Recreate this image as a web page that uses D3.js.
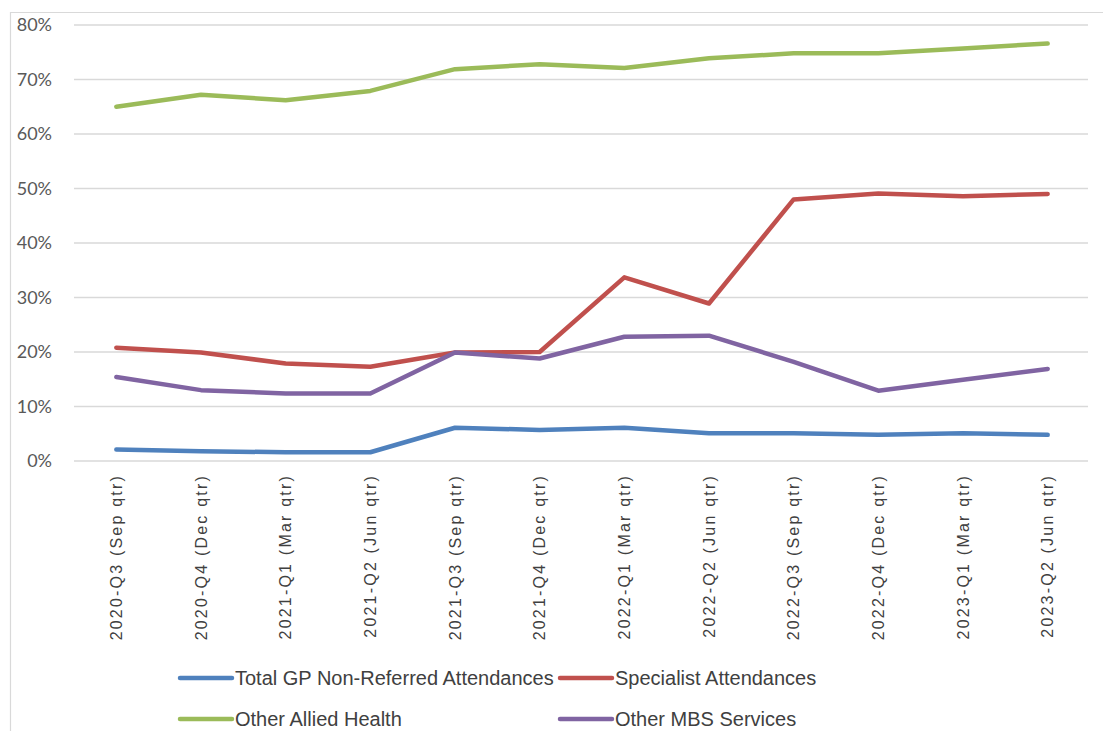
<!DOCTYPE html>
<html>
<head>
<meta charset="utf-8">
<script src="https://cdn.jsdelivr.net/npm/d3@7"></script>
<style>
  body { margin: 0; background: #fff; }
  svg { display: block; }
</style>
</head>
<body>
<svg id="chart"></svg>
<script>
const quarters = ["2020-Q3 (Sep qtr)", "2020-Q4 (Dec qtr)", "2021-Q1 (Mar qtr)", "2021-Q2 (Jun qtr)",
  "2021-Q3 (Sep qtr)", "2021-Q4 (Dec qtr)", "2022-Q1 (Mar qtr)", "2022-Q2 (Jun qtr)",
  "2022-Q3 (Sep qtr)", "2022-Q4 (Dec qtr)", "2023-Q1 (Mar qtr)", "2023-Q2 (Jun qtr)"];
const gpNonReferred = [2.1, 1.8, 1.6, 1.6, 6.1, 5.7, 6.1, 5.1, 5.1, 4.8, 5.1, 4.8];
const specialist   = [20.8, 19.9, 17.9, 17.3, 19.9, 20.0, 33.7, 28.9, 48.0, 49.1, 48.6, 49.0];
const alliedHealth = [65.0, 67.2, 66.2, 67.9, 71.9, 72.8, 72.1, 73.9, 74.8, 74.8, 75.7, 76.6];
const otherMbs     = [15.4, 13.0, 12.4, 12.4, 19.9, 18.8, 22.8, 23.0, 18.2, 12.9, 14.9, 16.9];
const yTicks = [0, 10, 20, 30, 40, 50, 60, 70, 80];

const series = [
  { name: "Total GP Non-Referred Attendances", values: gpNonReferred, color: "#4f81bd" },
  { name: "Specialist Attendances", values: specialist, color: "#c0504d" },
  { name: "Other Allied Health", values: alliedHealth, color: "#9bbb59" },
  { name: "Other MBS Services", values: otherMbs, color: "#8064a2" }
];

const width = 1103, height = 731;
const svg = d3.select("#chart").attr("width", width).attr("height", height);

// outer chart frame (top + left visible)
svg.append("path")
  .attr("d", "M10.5,740 L10.5,12.5 L1103,12.5")
  .attr("fill", "none").attr("stroke", "#d9d9d9").attr("stroke-width", 1.2);

const x = d3.scaleBand().domain(quarters).range([74, 1090]);
const y = d3.scaleLinear().domain([0, 80]).range([461, 25]);

// gridlines
svg.append("g").selectAll("line").data(yTicks).join("line")
  .attr("x1", 74).attr("x2", 1088)
  .attr("y1", d => y(d)).attr("y2", d => y(d))
  .attr("stroke", "#d9d9d9").attr("stroke-width", 1.5);

// y axis labels
const yAxis = svg.append("g")
  .attr("transform", "translate(52,0)")
  .call(d3.axisLeft(y).tickValues(yTicks).tickFormat(d => d + "%").tickSize(0).tickPadding(0));
yAxis.select(".domain").remove();
yAxis.selectAll("text")
  .attr("font-family", "Lato, 'Open Sans', sans-serif")
  .attr("font-size", 18).attr("fill", "#595959");

// x axis labels
const xAxis = svg.append("g")
  .attr("transform", "translate(0,461)")
  .call(d3.axisBottom(x).tickSize(0).tickPadding(0));
xAxis.select(".domain").remove();
xAxis.selectAll("text")
  .attr("font-family", "'Liberation Sans', Arial, sans-serif")
  .attr("font-size", 16).attr("fill", "#404040")
  .attr("letter-spacing", 2.2)
  .attr("transform", "translate(0,13) rotate(-90)")
  .attr("text-anchor", "end")
  .attr("dx", 0).attr("dy", "0.35em")
  .attr("y", 0).attr("x", 0);

// lines
const line = d3.line()
  .x((d, i) => x(quarters[i]) + x.bandwidth() / 2)
  .y(d => y(d));

svg.append("g").selectAll("path").data(series).join("path")
  .attr("d", d => line(d.values))
  .attr("fill", "none")
  .attr("stroke", d => d.color)
  .attr("stroke-width", 4.5)
  .attr("stroke-linejoin", "round")
  .attr("stroke-linecap", "round");

// legend
const legendPos = [[180, 678], [560, 678], [180, 719], [560, 719]];
const legend = svg.append("g").selectAll("g").data(series).join("g")
  .attr("transform", (d, i) => `translate(${legendPos[i][0]},${legendPos[i][1]})`);
legend.append("line")
  .attr("x1", 0).attr("x2", 52).attr("y1", 0).attr("y2", 0)
  .attr("stroke", d => d.color).attr("stroke-width", 4.5)
  .attr("stroke-linecap", "round");
legend.append("text")
  .attr("x", 55).attr("y", 0).attr("dy", "0.35em")
  .attr("font-family", "'Liberation Sans', Arial, sans-serif")
  .attr("font-size", 20).attr("fill", "#404040")
  .text(d => d.name);
</script>
</body>
</html>
